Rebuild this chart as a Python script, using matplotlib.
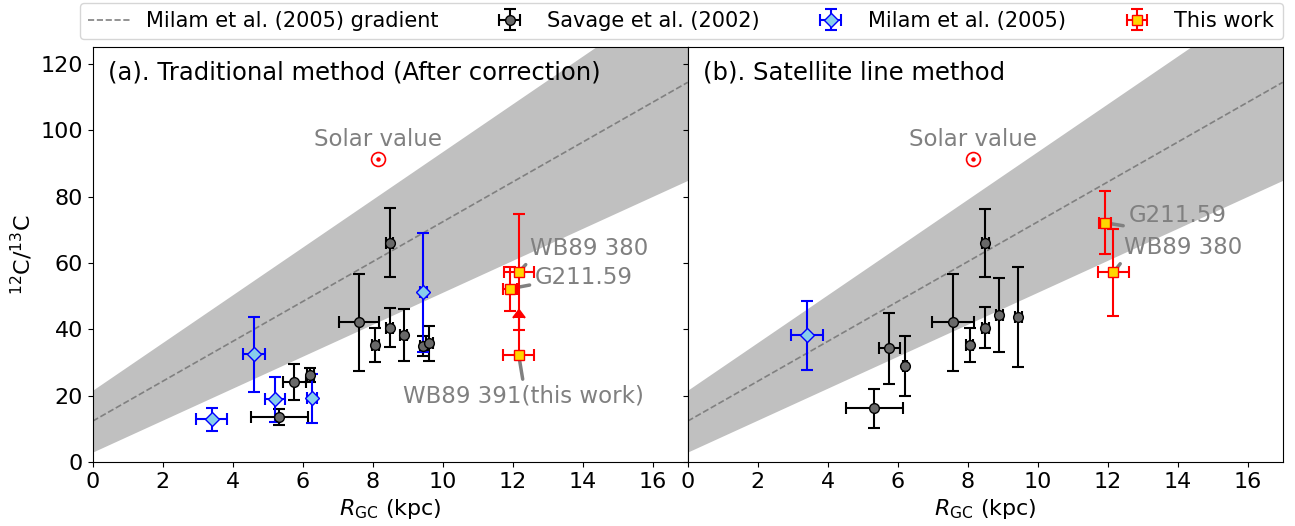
import numpy as np
import matplotlib
matplotlib.use('Agg')
import matplotlib.pyplot as plt
from matplotlib.ticker import MultipleLocator

# Milam et al. (2005) gradient: ratio = a*R + b
grad_a, grad_a_err = 6.01, 1.19
grad_b, grad_b_err = 12.28, 9.33

sun_r = 8.15
sun_ratio = 91.4

# Savage et al. (2002)
sav_r_a = [5.33, 5.76, 6.21, 7.62, 8.07, 8.49, 8.49, 8.89, 9.45, 9.62]
sav_rerr_a = [0.82, 0.32, 0.1, 0.57, 0.1, 0.1, 0.1, 0.1, 0.1, 0.1]
sav_v_a = [13.4, 24.1, 26.2, 42.1, 35.2, 40.5, 66.0, 38.2, 34.9, 35.7]
sav_verr_a = [2.4, 5.5, 2.0, 14.6, 5.1, 6.0, 10.4, 7.9, 3.0, 5.2]

sav_r_b = [5.33, 5.76, 6.21, 7.59, 8.06, 8.5, 8.5, 8.9, 9.45]
sav_rerr_b = [0.82, 0.3, 0.05, 0.6, 0.1, 0.1, 0.1, 0.1, 0.1]
sav_v_b = [16.1, 34.2, 29.0, 42.1, 35.2, 40.5, 66.0, 44.3, 43.8]
sav_verr_b = [6.0, 10.6, 9.0, 14.6, 5.2, 6.1, 10.3, 11.2, 15.1]

# Milam et al. (2005)
mil_r_a = [3.4, 4.61, 5.21, 6.27, 9.45]
mil_rerr_a = [0.44, 0.31, 0.29, 0.15, 0.1]
mil_v_a = [12.8, 32.5, 18.8, 19.1, 51.1]
mil_verr_a = [3.5, 11.3, 6.9, 7.5, 18.0]

mil_r_b = [3.41]
mil_rerr_b = [0.46]
mil_v_b = [38.1]
mil_verr_b = [10.3]

# this work
src_names = ['WB89 380', 'G211.59']
tw_r_a = [12.18, 11.92]
tw_rerr_a = [0.44, 0.2]
tw_v_a = [57.3, 52.2]
tw_verr_a = [17.4, 6.6]

wb391_r, wb391_rerr, wb391_v, wb391_up = 12.17, 0.44, 32.3, 11.0

tw_r_b = [12.16, 11.92]
tw_rerr_b = [0.45, 0.17]
tw_v_b = [57.1, 72.1]
tw_verr_b = [13.2, 9.5]

fig, axes = plt.subplots(1, 2, figsize=(12.95, 5.26), dpi=100, sharey=True)
plt.subplots_adjust(left=0.0716, right=0.9905, bottom=0.122, top=0.910, wspace=0)

xx = np.linspace(0, 17, 200)
ebkw = dict(ms=7, capsize=4, elinewidth=1.5, capthick=1.5)

def draw_common(ax, sr, srerr, sv, sverr, mr, mrerr, mv, mverr):
    ax.fill_between(xx, (grad_a - grad_a_err) * xx + grad_b - grad_b_err,
                    (grad_a + grad_a_err) * xx + grad_b + grad_b_err,
                    color='silver', lw=0, zorder=0)
    ln, = ax.plot(xx, grad_a * xx + grad_b, '--', color='gray', lw=1.2, zorder=1)
    # sun symbol: open circle with a dot
    ax.plot(sun_r, sun_ratio, 'o', mfc='none', mec='red', ms=10, mew=1.2)
    ax.plot(sun_r, sun_ratio, 'o', color='red', ms=2.2)
    ax.text(sun_r, 97.3, 'Solar value', ha='center', va='center', color='gray', fontsize=16.5)
    sv_h = ax.errorbar(sr, sv, xerr=srerr, yerr=sverr, fmt='o', color='k', mfc='dimgray',
                       mec='k', zorder=3, **ebkw)
    mi_h = ax.errorbar(mr, mv, xerr=mrerr, yerr=mverr, fmt='D', color='blue', mfc='skyblue',
                       mec='blue', zorder=3, **ebkw)
    ax.set_xlim(0, 17)
    ax.set_ylim(0, 125)
    ax.xaxis.set_major_locator(MultipleLocator(2))
    ax.yaxis.set_major_locator(MultipleLocator(20))
    ax.set_xlabel(r'$R_{\rm GC}$ (kpc)', fontsize=16)
    ax.tick_params(labelsize=16)
    return ln, sv_h, mi_h

ax = axes[0]
ln, sv_h, mi_h = draw_common(ax, sav_r_a, sav_rerr_a, sav_v_a, sav_verr_a,
                             mil_r_a, mil_rerr_a, mil_v_a, mil_verr_a)
tw_h = ax.errorbar(tw_r_a, tw_v_a, xerr=tw_rerr_a, yerr=tw_verr_a, fmt='s', color='red',
                   mfc='gold', mec='red', zorder=4, **ebkw)
ax.errorbar([wb391_r], [wb391_v], xerr=[wb391_rerr], yerr=[[0], [wb391_up]], lolims=True,
            fmt='s', color='red', mfc='gold', mec='red', zorder=4, **ebkw)
ax.text(0.025, 0.94, '(a). Traditional method (After correction)', transform=ax.transAxes,
        va='center', fontsize=17.5)
ax.set_ylabel(r'$^{12}$C/$^{13}$C', fontsize=16)
arr = dict(arrowstyle='-', color='gray', lw=2.5)
ax.annotate('WB89 380', xy=(tw_r_a[0], tw_v_a[0]), xytext=(12.5, 64.4), color='gray',
            fontsize=16.5, va='center', arrowprops=dict(arr, relpos=(0, 0)))
ax.annotate('G211.59', xy=(tw_r_a[1], tw_v_a[1]), xytext=(12.64, 55.7), color='gray',
            fontsize=16.5, va='center', arrowprops=dict(arr, relpos=(0, 0.2)))
ax.annotate('WB89 391(this work)', xy=(wb391_r, wb391_v), xytext=(8.87, 19.8), color='gray',
            fontsize=16.5, va='center', arrowprops=dict(arr, relpos=(0.5, 1)))

ax = axes[1]
draw_common(ax, sav_r_b, sav_rerr_b, sav_v_b, sav_verr_b,
            mil_r_b, mil_rerr_b, mil_v_b, mil_verr_b)
ax.errorbar(tw_r_b, tw_v_b, xerr=tw_rerr_b, yerr=tw_verr_b, fmt='s', color='red',
            mfc='gold', mec='red', zorder=4, **ebkw)
ax.text(0.025, 0.94, '(b). Satellite line method', transform=ax.transAxes,
        va='center', fontsize=17.5)
ax.annotate('G211.59', xy=(tw_r_b[1], tw_v_b[1]), xytext=(12.6, 74.4), color='gray',
            fontsize=16.5, va='center', arrowprops=dict(arr, relpos=(0, 0)))
ax.annotate('WB89 380', xy=(tw_r_b[0], tw_v_b[0]), xytext=(12.47, 64.7), color='gray',
            fontsize=16.5, va='center', arrowprops=dict(arr, relpos=(0, 0)))

fig.legend([ln, sv_h, mi_h, tw_h],
           ['Milam et al. (2005) gradient', 'Savage et al. (2002)', 'Milam et al. (2005)', 'This work'],
           loc='upper center', bbox_to_anchor=(0.526, 1.015), ncol=4, fontsize=15,
           columnspacing=2.4)

plt.savefig('out.png', dpi=100)
